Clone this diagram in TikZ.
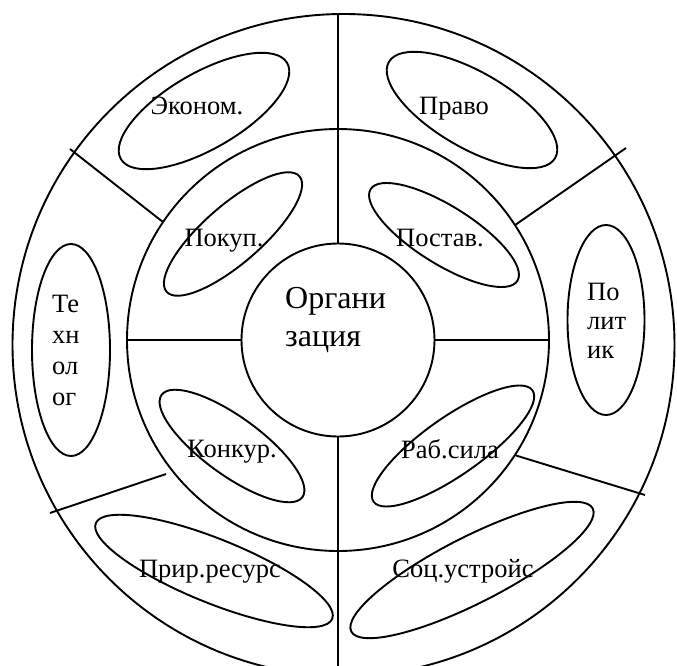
\documentclass[tikz,border=0pt]{standalone}
\usepackage{fontspec}
\setmainfont{Liberation Serif}
\usetikzlibrary{shapes.geometric}

\tikzset{
  ln/.style={line width=1.9pt},
  disc/.style={draw,circle,line width=1.9pt,inner sep=0pt},
  oval/.style={draw,ellipse,line width=1.9pt,inner sep=0pt},
  lbl/.style={inner sep=0pt,anchor=base,font=\fontsize{26.5}{31}\selectfont},
  stack/.style={inner sep=0pt,anchor=base west,align=left,font=\fontsize{26.5}{31}\selectfont},
}

\begin{document}
\begin{tikzpicture}[x=1pt,y=-1pt]
  \useasboundingbox (0,0) rectangle (677,666);
  \clip (0,0) rectangle (677,666);

  % three rings
  \node[disc,minimum size=662] (outer) at (343.5,345) {};
  \node[disc,minimum size=422] (ring) at (338,340) {};
  \node[disc,minimum size=193] (org) at (338,340) {};
  \node[stack,font=\fontsize{32}{38}\selectfont] (orgtxt) at (285,346) {Органи\\зация};

  % dividers
  \coordinate (bot) at (338,670);
  \coordinate (ul) at (70,149);
  \coordinate (ur) at (626,148);
  \coordinate (lr) at (645,495);
  \coordinate (llin) at (166,474);
  \coordinate (ll) at (50,513);
  \draw[ln] (org.north) -- (org.north |- outer.north);
  \draw[ln] (org.south) -- (bot);
  \draw[ln] (ring.west) -- (org.west);
  \draw[ln] (org.east) -- (ring.east);
  \draw[ln] (ring.146) -- (ul);
  \draw[ln] (ring.33.5) -- (ur);
  \draw[ln] (ring.-33.8) -- (lr);
  \draw[ln] (llin) -- (ll);

  % outer ring
  \node[oval,minimum width=192,minimum height=76,rotate=30] (econ) at (204,111) {};
  \node[oval,minimum width=192,minimum height=76,rotate=-30] (pravo) at (472,110) {};
  \node[oval,minimum width=78,minimum height=212] (tech) at (71,350) {};
  \node[oval,minimum width=77,minimum height=190] (polit) at (606,320) {};
  \node[oval,minimum width=255,minimum height=64,rotate=-22] (prir) at (214,571) {};
  \node[oval,minimum width=271,minimum height=66,rotate=27] (soc) at (472,570) {};

  % middle ring
  \node[oval,minimum width=176,minimum height=58,rotate=41] (pokup) at (233,234) {};
  \node[oval,minimum width=173,minimum height=58,rotate=-32] (postav) at (444,235) {};
  \node[oval,minimum width=174,minimum height=58,rotate=-36] (konk) at (232,446) {};
  \node[oval,minimum width=194,minimum height=58,rotate=35] (rab) at (453,446) {};

  % labels
  \node[lbl] (econtxt) at (197,115) {Эконом.};
  \node[lbl] (pravotxt) at (454,115) {Право};
  \node[lbl] (pokuptxt) at (224,246) {Покуп.};
  \node[lbl] (postavtxt) at (440,246) {Постав.};
  \node[lbl] (konktxt) at (232,457) {Конкур.};
  \node[lbl] (rabtxt) at (450,458) {Раб.сила};
  \node[lbl] (prirtxt) at (210,577) {Прир.ресурс};
  \node[lbl] (soctxt) at (463,577) {Соц.устройс};
  \node[stack] (techtxt) at (52,405) {Те\\хн\\ол\\ог};
  \node[stack,font=\fontsize{26.5}{29}\selectfont] (polittxt) at (587,358) {По\\лит\\ик};
\end{tikzpicture}
\end{document}
